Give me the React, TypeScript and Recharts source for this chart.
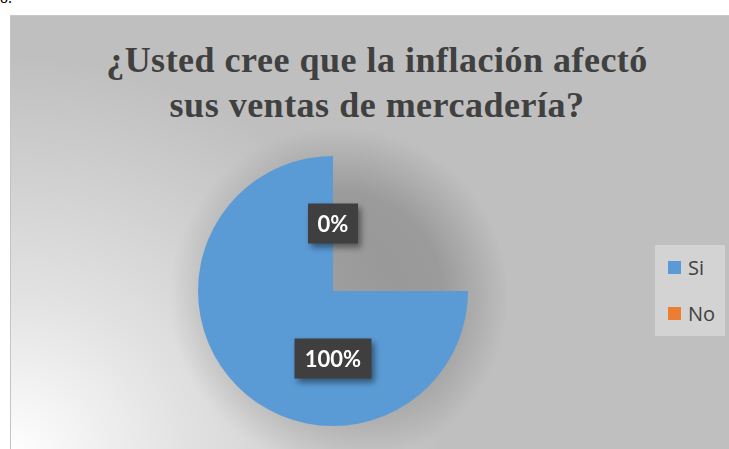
import React from 'react';
import { PieChart, Pie, Cell, Legend } from 'recharts';

const categories = ['Si', 'No'];
const values = [100, 0];
const COLORS = ['#5b9bd5', '#ed7d31'];
const TITLE_LINES = ['¿Usted cree que la inflación afectó', 'sus ventas de mercadería?'];

const data = categories.map((name, i) => ({ name, value: values[i] }));

function renderLabel(props: any) {
  const { cx, cy, outerRadius, percent, index } = props;
  const text = `${Math.round((percent || 0) * 100)}%`;
  // Si label sits below centre, No label above it
  const y = index === 0 ? cy + outerRadius * 0.5 : cy - outerRadius * 0.5;
  const w = text.length > 2 ? 77 : 50;
  const h = 40;
  return (
    <g key={`lbl-${index}`} style={{ filter: 'drop-shadow(3px 4px 3px rgba(0,0,0,0.45))' }}>
      <rect x={cx - w / 2} y={y - h / 2} width={w} height={h} fill="#3f3f3f" />
      <text
        x={cx}
        y={y}
        dy={8}
        textAnchor="middle"
        fill="#ffffff"
        fontFamily="Lato, 'Open Sans', sans-serif"
        fontWeight={700}
        fontSize={22}
      >
        {text}
      </text>
    </g>
  );
}

function renderLegend() {
  return (
    <div
      style={{
        width: 70,
        height: 91,
        background: '#d3d3d3',
        boxSizing: 'border-box',
        paddingTop: 11,
        paddingLeft: 13,
        fontFamily: "'Open Sans', 'Noto Sans', sans-serif",
        fontSize: 20,
        color: '#404040',
      }}
    >
      {categories.map((c, i) => (
        <div key={c} style={{ display: 'flex', alignItems: 'center', height: 22, marginBottom: 24 }}>
          <span style={{ width: 13, height: 13, background: COLORS[i], display: 'inline-block', marginRight: 7 }} />
          <span>{c}</span>
        </div>
      ))}
    </div>
  );
}

export default function App() {
  return (
    <div style={{ position: 'absolute', left: 0, top: 0, width: 729, height: 449, overflow: 'hidden', background: '#fff' }}>
      <div style={{ position: 'absolute', left: 0, top: -11, fontFamily: "'Liberation Serif', serif", fontSize: 16, color: '#000' }}>
        o.
      </div>
      <div
        style={{
          position: 'absolute',
          left: 10,
          top: 15,
          width: 718,
          height: 440,
          borderLeft: '1px solid #c4c4c4',
          borderTop: '1px solid #c8c8c8',
          background:
            'radial-gradient(circle at 328px 281px, rgba(0,0,0,0.21) 0px, rgba(0,0,0,0.19) 105px, rgba(0,0,0,0) 170px),' +
            'radial-gradient(ellipse 430px 400px at 0% 100%, #ffffff 0%, rgba(255,255,255,0.55) 40%, rgba(255,255,255,0) 100%),' +
            '#bfbfbf',
        }}
      >
        <div
          style={{
            position: 'absolute',
            left: 7,
            top: 22,
            width: 718,
            textAlign: 'center',
            fontFamily: "'Liberation Serif', 'DejaVu Serif', serif",
            fontWeight: 700,
            fontSize: 36,
            letterSpacing: 0.5,
            lineHeight: '45px',
            color: '#404040',
          }}
        >
          {TITLE_LINES.map((t) => (
            <div key={t}>{t}</div>
          ))}
        </div>
        <PieChart width={718} height={434} style={{ position: 'absolute', left: 0, top: 0 }}>
          <Pie
            data={data}
            dataKey="value"
            nameKey="name"
            cx={317}
            cy={270}
            outerRadius={135}
            startAngle={90}
            endAngle={360}
            stroke="none"
            label={renderLabel}
            labelLine={false}
            isAnimationActive={false}
          >
            {data.map((_, i) => (
              <Cell key={i} fill={COLORS[i]} />
            ))}
          </Pie>
          <Legend
            layout="vertical"
            align="right"
            verticalAlign="top"
            content={renderLegend}
            wrapperStyle={{ position: 'absolute', left: 644, top: 229, width: 70 }}
          />
        </PieChart>
      </div>
    </div>
  );
}
